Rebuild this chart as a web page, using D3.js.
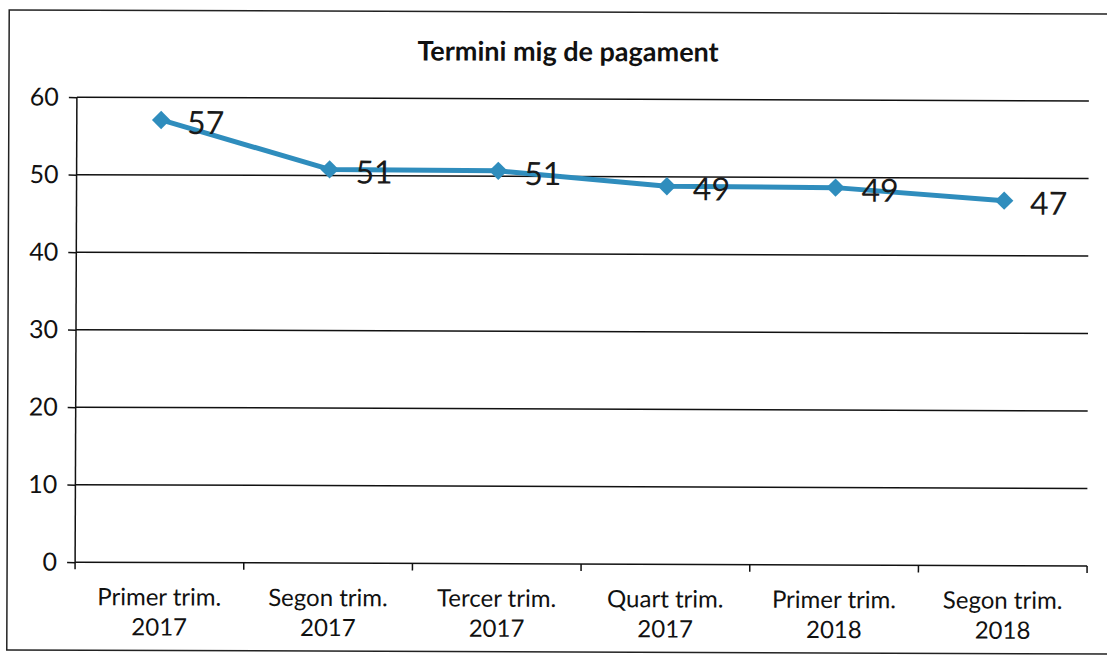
<!DOCTYPE html>
<html>
<head>
<meta charset="utf-8">
<script src="https://cdn.jsdelivr.net/npm/d3@7"></script>
<style>
  body { margin: 0; background: #fff; }
  svg { display: block; }
  text { font-family: Lato, 'Open Sans', sans-serif; }
</style>
</head>
<body>
<div id="chart"></div>
<script>
const categories = [
    ['Primer trim.', '2017'],
    ['Segon trim.', '2017'],
    ['Tercer trim.', '2017'],
    ['Quart trim.', '2017'],
    ['Primer trim.', '2018'],
    ['Segon trim.', '2018']
]
const values = [57.1, 50.8, 50.7, 48.8, 48.7, 47.1]
const yTicks = [0, 10, 20, 30, 40, 50, 60]
const title = 'Termini mig de pagament'

const W = 1107, H = 655
const m = { left: 76, right: 1088, top: 99, bottom: 564 }

const svg = d3.select('#chart').append('svg')
    .attr('width', W)
    .attr('height', H)

// scanned page is a tiny bit tilted
const g = svg.append('g').attr('transform', 'rotate(0.22 560 330)')

g.append('rect')
    .attr('x', 8).attr('y', 12)
    .attr('width', 1120).attr('height', 640)
    .attr('fill', '#fff')
    .attr('stroke', '#222')
    .attr('stroke-width', 1.5)

g.append('text')
    .attr('x', 567).attr('y', 61)
    .attr('text-anchor', 'middle')
    .attr('font-size', 27)
    .attr('font-weight', 'bold')
    .attr('fill', '#111')
    .text(title)

const x = d3.scaleBand().domain(d3.range(categories.length)).range([m.left, m.right])
const y = d3.scaleLinear().domain([0, 60]).range([m.bottom, m.top])

// gridlines
g.append('g').selectAll('line').data(yTicks.filter(d => d > 0)).enter()
    .append('line')
    .attr('x1', m.left).attr('x2', m.right)
    .attr('y1', d => y(d)).attr('y2', d => y(d))
    .attr('stroke', '#111')
    .attr('stroke-width', 1.5)

const yAxis = g.append('g')
    .attr('transform', `translate(${m.left},0)`)
    .call(d3.axisLeft(y).tickValues(yTicks).tickSize(8).tickPadding(10))
yAxis.selectAll('line, path').attr('stroke', '#111').attr('stroke-width', 1.5)
yAxis.selectAll('text').attr('font-size', 25).attr('fill', '#111')
yAxis.select('.domain').attr('d', `M0,${m.top}V${m.bottom}`)

// x axis with ticks between categories
const xAxis = g.append('g').attr('transform', `translate(0,${m.bottom})`)
xAxis.append('line')
    .attr('x1', m.left).attr('x2', m.right)
    .attr('stroke', '#111').attr('stroke-width', 1.5)
xAxis.selectAll('.tk').data(d3.range(categories.length + 1)).enter()
    .append('line')
    .attr('x1', i => m.left + i * x.step()).attr('x2', i => m.left + i * x.step())
    .attr('y1', 0).attr('y2', 7)
    .attr('stroke', '#111').attr('stroke-width', 1.5)

const lbl = xAxis.selectAll('.lbl').data(categories).enter()
    .append('text')
    .attr('text-anchor', 'middle')
    .attr('font-size', 24)
    .attr('fill', '#111')
lbl.append('tspan')
    .attr('x', (d, i) => x(i) + x.bandwidth() / 2)
    .attr('y', 43)
    .text(d => d[0])
lbl.append('tspan')
    .attr('x', (d, i) => x(i) + x.bandwidth() / 2)
    .attr('y', 73)
    .text(d => d[1])

// series
const blue = '#2f8dbd'
const px = i => x(i) + x.bandwidth() / 2

g.append('path')
    .datum(values)
    .attr('fill', 'none')
    .attr('stroke', blue)
    .attr('stroke-width', 5)
    .attr('stroke-linejoin', 'round')
    .attr('d', d3.line().x((d, i) => px(i)).y(d => y(d)))

g.append('g').selectAll('path').data(values).enter()
    .append('path')
    .attr('transform', (d, i) => `translate(${px(i)},${y(d)}) rotate(45)`)
    .attr('d', 'M-6.5,-6.5H6.5V6.5H-6.5Z')
    .attr('fill', blue)

g.append('g').selectAll('text').data(values).enter()
    .append('text')
    .attr('x', (d, i) => px(i) + 26)
    .attr('y', d => y(d) + 14)
    .attr('font-size', 32)
    .attr('fill', '#1a1a1a')
    .text(d => d3.format('.0f')(d))
</script>
</body>
</html>
